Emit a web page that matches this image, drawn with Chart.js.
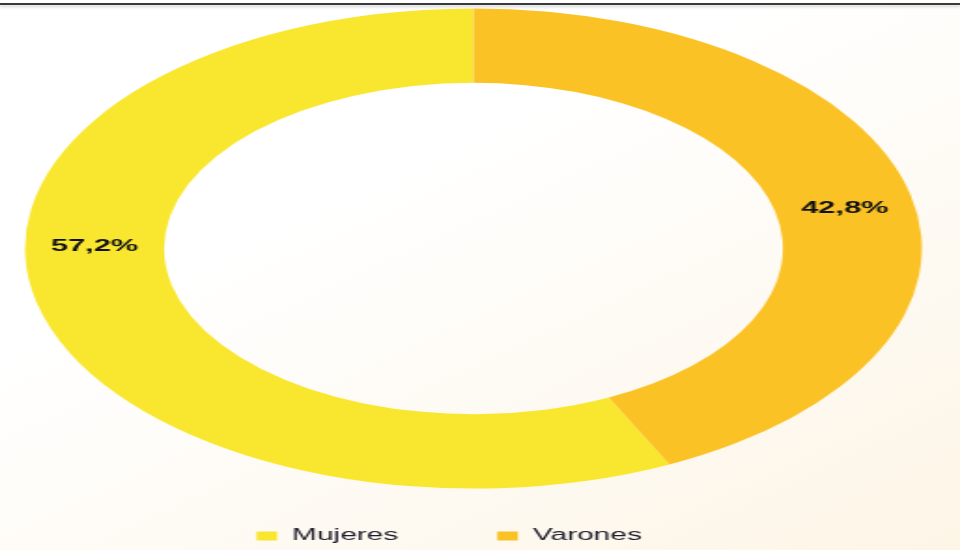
<!DOCTYPE html>
<html>
<head>
<meta charset="utf-8">
<script src="https://cdn.jsdelivr.net/npm/chart.js@4/dist/chart.umd.min.js"></script>
<style>
  html, body { margin: 0; padding: 0; }
  body {
    width: 960px; height: 550px; overflow: hidden; position: relative;
    background: linear-gradient(155deg, #ffffff 35%, #fdf5e6 100%);
  }
  #topline {
    position: absolute; left: 0; top: 3px; width: 960px; height: 2px;
    background: #3a3a3a; box-shadow: 0 2px 3px rgba(0,0,0,0.18);
  }
  #chart { position: absolute; left: 0; top: 0; width: 960px; height: 550px; }
</style>
</head>
<body>
<div id="topline"></div>
<canvas id="chart" width="514" height="550" style="width:960px;height:550px"></canvas>
<script>
// data
const categorias = ['Mujeres', 'Varones'];
const porcentajes = [57.2, 42.8];
const colores = ['#f9e62f', '#fbc225'];

// the reference is stretched horizontally, so the canvas is drawn narrow and widened by css
const fmt = v => v.toFixed(1).replace('.', ',') + '%';

// labels sit inside the ring, turned a bit (degrees) from the arc middle
const labelTurn = [13.5, 1.5];

const ringLabels = {
  id: 'ringLabels',
  afterDatasetsDraw(chart) {
    const ctx = chart.ctx;
    const meta = chart.getDatasetMeta(0);
    ctx.save();
    ctx.font = 'bold 16.5px "Liberation Sans", Arial, sans-serif';
    ctx.fillStyle = '#111111';
    ctx.textAlign = 'center';
    ctx.textBaseline = 'middle';
    meta.data.forEach((arc, i) => {
      const a = (arc.startAngle + arc.endAngle) / 2 + labelTurn[i] * Math.PI / 180;
      const r = (arc.innerRadius + arc.outerRadius) / 2;
      ctx.fillText(fmt(porcentajes[i]), arc.x + Math.cos(a) * r, arc.y + Math.sin(a) * r);
    });
    ctx.restore();
  }
};

// move the legend a little left of the ring centre, as in the picture
const legendNudge = {
  id: 'legendNudge',
  afterLayout(chart) {
    chart.legend.left -= 13;
    chart.legend.right -= 13;
  }
};

new Chart(document.getElementById('chart'), {
  type: 'doughnut',
  data: {
    labels: categorias,
    datasets: [{
      data: porcentajes,
      backgroundColor: colores,
      borderWidth: 0
    }]
  },
  options: {
    responsive: false,
    devicePixelRatio: 1,
    animation: false,
    cutout: '69%',
    radius: '106%',
    rotation: porcentajes[1] * 3.6,
    layout: { padding: { top: 22, right: 7, bottom: -4, left: 0 } },
    plugins: {
      tooltip: { enabled: false },
      legend: {
        position: 'bottom',
        labels: {
          boxWidth: 11,
          boxHeight: 9,
          padding: 53,
          color: '#1d1d2b',
          font: { family: '"Liberation Sans", Arial, sans-serif', size: 16 }
        }
      }
    }
  },
  plugins: [ringLabels, legendNudge]
});
</script>
</body>
</html>
